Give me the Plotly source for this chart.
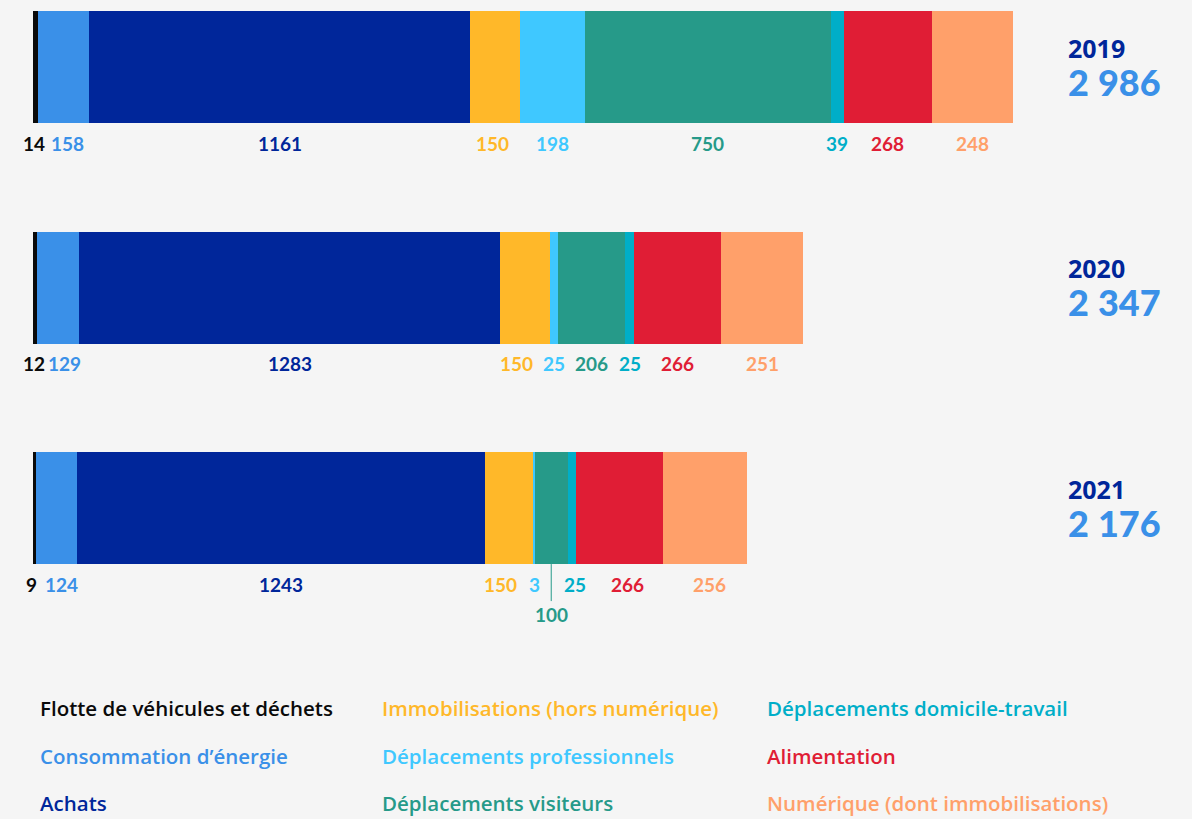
import plotly.graph_objects as go

years = ["2019", "2020", "2021"]

categories = [
    "Flotte de véhicules et déchets",
    "Consommation d’énergie",
    "Achats",
    "Immobilisations (hors numérique)",
    "Déplacements professionnels",
    "Déplacements visiteurs",
    "Déplacements domicile-travail",
    "Alimentation",
    "Numérique (dont immobilisations)",
]

flotte = [14, 12, 9]
energie = [158, 129, 124]
achats = [1161, 1283, 1243]
immobilisations = [150, 150, 150]
dep_pro = [198, 25, 3]
dep_visiteurs = [750, 206, 100]
dep_domicile = [39, 25, 25]
alimentation = [268, 266, 266]
numerique = [248, 251, 256]

series = [flotte, energie, achats, immobilisations, dep_pro,
          dep_visiteurs, dep_domicile, alimentation, numerique]

colors = ["#0a0a0a", "#3a90e8", "#00269a", "#ffb829", "#3fc8ff",
          "#269a89", "#00aec8", "#e01d35", "#ffa06a"]

# pixel nudges for crowded value labels: (year index, series index) -> xshift
nudges = {(0, 0): -1, (0, 1): 4, (0, 3): -3,
          (1, 0): -1, (1, 1): 6, (1, 3): -8,
          (2, 0): -3, (2, 1): 5, (2, 3): -9, (2, 6): 3, (2, 7): 8, (2, 8): 4}

W, H = 1192, 819
ml, mr, mt, mb = 33, 179, 0, 200
bar_w = 0.508

fig = go.Figure()
for name, vals, col in zip(categories, series, colors):
    fig.add_trace(go.Bar(
        y=years, x=vals, name=name, orientation="h",
        marker=dict(color=col, line=dict(width=0)),
        width=bar_w, showlegend=False, hoverinfo="x+name",
    ))

num_font = "Lato"
annotations = []
for yi, yr in enumerate(years):
    start = 0
    for si, vals in enumerate(series):
        v = vals[yi]
        center = start + v / 2
        start += v
        if yi == 2 and si == 5:
            # visitors 2021: label hangs below with a leader line
            annotations.append(dict(
                x=center, y=yi, xref="x", yref="y", text=str(v),
                showarrow=True, arrowhead=0, arrowwidth=1, arrowcolor=colors[si],
                ax=0, ay=50, yshift=-56,
                font=dict(family=num_font, size=19, color=colors[si], weight="bold"),
            ))
            continue
        annotations.append(dict(
            x=center, y=yi, xref="x", yref="y", text=str(v), showarrow=False,
            yshift=-76, xshift=nudges.get((yi, si), 0),
            font=dict(family=num_font, size=19, color=colors[si], weight="bold"),
        ))
    # year and total stacked in one label on the right
    total = f"{sum(s[yi] for s in series):,}".replace(",", "\u202f")
    annotations.append(dict(
        x=1, y=yi, xref="paper", yref="y", showarrow=False,
        text=(f"<span style='font-size:25px;font-weight:700'>{yr}</span><br>"
              f"<span style='font-family:Lato;font-size:36px;font-weight:900;"
              f"color:#3a90e8'>{total}</span>"),
        xanchor="left", yanchor="middle", align="left", xshift=53, yshift=0,
        font=dict(family="Open Sans", size=29, color="#00269a"),
    ))

# legend as three text columns
plot_w = W - ml - mr
plot_h = H - mt - mb
col_x = [38, 380, 765]
row_y = [708, 756, 803]
for i, (name, col) in enumerate(zip(categories, colors)):
    c, r = divmod(i, 3)
    annotations.append(dict(
        x=(col_x[c] - ml) / plot_w, y=(H - mb - row_y[r]) / plot_h,
        xref="paper", yref="paper", text=name, showarrow=False,
        xanchor="left", yanchor="middle",
        font=dict(family="Open Sans", size=20.5, color=col, weight=600),
    ))

fig.update_layout(
    barmode="stack",
    width=W, height=H,
    margin=dict(l=ml, r=mr, t=mt, b=mb),
    paper_bgcolor="#f5f5f5",
    plot_bgcolor="#f5f5f5",
    xaxis=dict(range=[0, sum(s[0] for s in series)], visible=False),
    yaxis=dict(type="category", categoryarray=years, range=[2.503, -0.304],
               visible=False),
    annotations=annotations,
)

fig.write_html("out.html", config={"displayModeBar": False},
               post_script="document.body.style.margin='0';")
